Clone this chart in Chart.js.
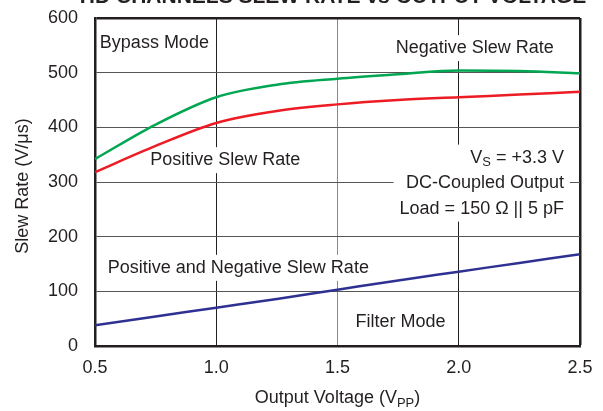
<!DOCTYPE html>
<html>
<head>
<meta charset="utf-8">
<script src="https://cdn.jsdelivr.net/npm/chart.js@4/dist/chart.umd.min.js"></script>
<style>
  html, body { margin: 0; padding: 0; background: #fff; }
  #wrap { width: 603px; height: 411px; position: relative; }
</style>
</head>
<body>
<div id="wrap"><canvas id="c" width="603" height="411"></canvas></div>
<script>
// values
const outputVoltage = [0.5, 0.75, 1.0, 1.25, 1.5, 1.75, 2.0, 2.25, 2.5];
const negativeSlew = [342, 405, 455, 478, 489, 497, 504, 503, 499];
const positiveSlew = [318, 366, 408, 430, 442, 450, 455, 460, 465];
const filterSlew = [38, 54, 70, 86, 103, 120, 136, 152, 168];

const xTicks = [0.5, 1.0, 1.5, 2.0, 2.5];
const yTicks = [0, 100, 200, 300, 400, 500, 600];

const FONT = "'Liberation Sans', Arial, Helvetica, sans-serif";
const INK = "#231f20";
const SIZE = 18;

function pts(ys) {
  return outputVoltage.map((x, i) => ({ x: x, y: ys[i] }));
}

// text notes inside the plot, placed in data units
// parts: [text, isSubscript]
const notes = [
  { x: 0.52, y: 554, align: "left", lines: [[["Bypass Mode", false]]] },
  { x: 2.066, y: 545, align: "center", lines: [[["Negative Slew Rate", false]]] },
  { x: 1.037, y: 340, align: "center", lines: [[["Positive Slew Rate", false]]] },
  { x: 2.434, y: 298, align: "right", lineGap: 25.5, lines: [
      [["V", false], ["S", true], [" = +3.3 V", false]],
      [["DC-Coupled Output", false]],
      [["Load = 150 Ω || 5 pF", false]],
    ] },
  { x: 1.091, y: 143, align: "center", lines: [[["Positive and Negative Slew Rate", false]]] },
  { x: 1.76, y: 44, align: "center", lines: [[["Filter Mode", false]]] },
];

function partsWidth(ctx, parts, size) {
  let w = 0;
  parts.forEach(([t, sub]) => {
    ctx.font = (sub ? size * 0.72 : size) + "px " + FONT;
    w += ctx.measureText(t).width;
  });
  return w;
}

function drawParts(ctx, parts, x, y, size) {
  // x is the left edge, y the middle line
  ctx.textBaseline = "middle";
  ctx.textAlign = "left";
  parts.forEach(([t, sub]) => {
    ctx.font = (sub ? size * 0.72 : size) + "px " + FONT;
    ctx.fillText(t, x, sub ? y + 5 : y);
    x += ctx.measureText(t).width;
  });
}

function noteBoxes(chart) {
  const ctx = chart.ctx;
  const xs = chart.scales.x, ys = chart.scales.y;
  const a = chart.chartArea;
  return notes.map(n => {
    const gap = n.lineGap || 20;
    const cx = xs.getPixelForValue(n.x);
    const cy = ys.getPixelForValue(n.y);
    const widths = n.lines.map(l => partsWidth(ctx, l, SIZE));
    const maxW = Math.max(...widths);
    const h = gap * (n.lines.length - 1);
    const rows = n.lines.map((l, i) => {
      let left;
      if (n.align === "left") left = cx;
      else if (n.align === "right") left = cx - widths[i];
      else left = cx - widths[i] / 2;
      return { parts: l, left: left, y: cy - h / 2 + i * gap };
    });
    let bl;
    if (n.align === "left") bl = cx;
    else if (n.align === "right") bl = cx - maxW;
    else bl = cx - maxW / 2;
    // keep the white patch inside the frame
    const x0 = Math.max(bl - 6, a.left + 2);
    const x1 = Math.min(bl + maxW + 6, a.right - 2);
    const y0 = Math.max(cy - h / 2 - 13, a.top + 2);
    const y1 = Math.min(cy + h / 2 + 13, a.bottom - 2);
    return { rows: rows, box: [x0, y0, x1 - x0, y1 - y0] };
  });
}

const notesPlugin = {
  id: "notes",
  beforeDatasetsDraw(chart) {
    const ctx = chart.ctx;
    ctx.save();
    ctx.fillStyle = "#fff";
    noteBoxes(chart).forEach(b => ctx.fillRect(...b.box));
    ctx.restore();
  },
  afterDatasetsDraw(chart) {
    const ctx = chart.ctx;
    ctx.save();
    ctx.fillStyle = INK;
    noteBoxes(chart).forEach(b => {
      b.rows.forEach(r => drawParts(ctx, r.parts, r.left, r.y, SIZE));
    });
    ctx.restore();
  },
  afterDraw(chart) {
    const ctx = chart.ctx;
    const area = chart.chartArea;
    ctx.save();
    ctx.fillStyle = INK;
    // title, cut off at the top like the reference
    ctx.font = "bold 21px " + FONT;
    ctx.textAlign = "center";
    ctx.textBaseline = "alphabetic";
    ctx.fillText("HD CHANNELS SLEW RATE vs OUTPUT VOLTAGE", 333, 3);

    // x axis title with subscript
    const xt = [["Output Voltage (V", false], ["PP", true], [")", false]];
    const w = partsWidth(ctx, xt, SIZE);
    drawParts(ctx, xt, (area.left + area.right) / 2 - w / 2, 398, SIZE);

    // y axis title
    ctx.translate(23, 186);
    ctx.rotate(-Math.PI / 2);
    ctx.font = SIZE + "px " + FONT;
    ctx.textAlign = "center";
    ctx.textBaseline = "middle";
    ctx.fillText("Slew Rate (V/\u03bcs)", 0, 0);
    ctx.restore();
  },
};

new Chart(document.getElementById("c"), {
  type: "line",
  data: {
    datasets: [
      { label: "Negative Slew Rate", data: pts(negativeSlew), borderColor: "#00a651", borderWidth: 2.5 },
      { label: "Positive Slew Rate", data: pts(positiveSlew), borderColor: "#ed1c24", borderWidth: 2.5 },
      { label: "Filter Mode", data: pts(filterSlew), borderColor: "#2e3192", borderWidth: 2.5 },
    ],
  },
  options: {
    responsive: false,
    animation: false,
    events: [],
    layout: { padding: { top: 18, right: 23, left: 0, bottom: 0 } },
    elements: {
      point: { radius: 0 },
      line: { cubicInterpolationMode: "monotone", fill: false },
    },
    plugins: { legend: { display: false }, tooltip: { enabled: false } },
    scales: {
      x: {
        type: "linear",
        min: 0.5,
        max: 2.5,
        afterFit: s => { s.height = 65; s.paddingLeft = 0; s.paddingRight = 0; },
        afterBuildTicks: s => { s.ticks = xTicks.map(v => ({ value: v })); },
        ticks: {
          padding: 11,
          color: INK,
          font: { family: FONT, size: SIZE },
          callback: v => v.toFixed(1),
        },
        grid: {
          drawTicks: false,
          color: c => (c.tick && c.tick.value === 1.5 ? "#8a8a8a" : INK),
          lineWidth: c => (c.tick && c.tick.value === 2.5 ? 2.5 : 1),
        },
        border: { display: true, color: INK, width: 2.5 },
      },
      y: {
        min: 0,
        max: 600,
        afterFit: s => { s.width = 95; s.paddingTop = 0; s.paddingBottom = 0; },
        afterBuildTicks: s => { s.ticks = yTicks.map(v => ({ value: v })); },
        ticks: {
          padding: 17,
          color: INK,
          font: { family: FONT, size: SIZE },
        },
        grid: {
          drawTicks: false,
          color: c => (c.tick && c.tick.value === 600 ? INK : "#555"),
          lineWidth: c => (c.tick && c.tick.value === 600 ? 2.5 : 1),
        },
        border: { display: true, color: INK, width: 2.5 },
      },
    },
  },
  plugins: [notesPlugin],
});
</script>
</body>
</html>
